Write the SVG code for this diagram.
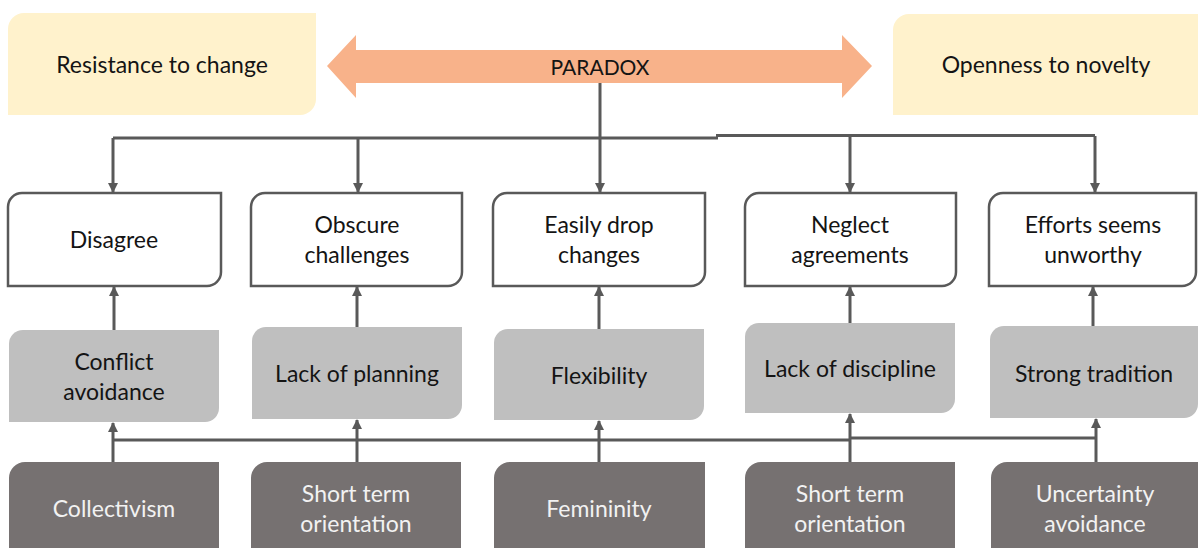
<svg xmlns="http://www.w3.org/2000/svg" width="1198" height="548" viewBox="0 0 1198 548">
  <style>
    text { font-family: Lato, "Open Sans", "Liberation Sans", sans-serif; font-size: 23px; text-anchor: middle; fill: #141414; }
    .pole { fill: #fff2cc; }
    .effect { fill: #ffffff; stroke: #595959; stroke-width: 2.5; }
    .cause { fill: #bfbfbf; }
    .root { fill: #767171; }
    .root-text { fill: #f2f2f2; }
    .wire { fill: none; stroke: #595959; stroke-width: 3; }
    .arrow { fill: none; stroke: #595959; stroke-width: 3; marker-end: url(#head); }
  </style>
  <defs>
    <marker id="head" markerUnits="userSpaceOnUse" markerWidth="11" markerHeight="11" refX="9" refY="5" orient="auto">
      <path d="M0,0 L10,5 L0,10 Z" fill="#595959"/>
    </marker>
  </defs>

  <rect width="1198" height="548" fill="#ffffff"/>

  <!-- the two poles -->
  <g id="resistance">
    <path class="pole" d="M24,13 H316 V99 A16,16 0 0 1 300,115 H8 V29 A16,16 0 0 1 24,13 Z"/>
    <text x="162" y="73">Resistance to change</text>
  </g>
  <g id="openness">
    <path class="pole" d="M909,14 H1198 V115 H893 V30 A16,16 0 0 1 909,14 Z"/>
    <text x="1046" y="73">Openness to novelty</text>
  </g>

  <!-- double-headed tension arrow -->
  <g id="paradox">
    <path d="M327,66 L356,35 V50 H842 V35 L872,66 L842,98 V83 H356 V98 Z" fill="#f8b28a"/>
    <text x="600" y="75" style="font-size:21px">PARADOX</text>
  </g>

  <!-- outcomes -->
  <g id="disagree">
    <path class="effect" d="M22,193 H221 V272 A14,14 0 0 1 207,286 H8 V207 A14,14 0 0 1 22,193 Z"/>
    <text x="114" y="248">Disagree</text>
  </g>
  <g id="obscure">
    <path class="effect" d="M265,193 H462 V272 A14,14 0 0 1 448,286 H251 V207 A14,14 0 0 1 265,193 Z"/>
    <text x="357" y="233">Obscure</text>
    <text x="357" y="263">challenges</text>
  </g>
  <g id="drop">
    <path class="effect" d="M507,193 H705 V272 A14,14 0 0 1 691,286 H493 V207 A14,14 0 0 1 507,193 Z"/>
    <text x="599" y="233">Easily drop</text>
    <text x="599" y="263">changes</text>
  </g>
  <g id="neglect">
    <path class="effect" d="M759,193 H956 V272 A14,14 0 0 1 942,286 H745 V207 A14,14 0 0 1 759,193 Z"/>
    <text x="850" y="233">Neglect</text>
    <text x="850" y="263">agreements</text>
  </g>
  <g id="efforts">
    <path class="effect" d="M1003,193 H1196 V272 A14,14 0 0 1 1182,286 H989 V207 A14,14 0 0 1 1003,193 Z"/>
    <text x="1093" y="233">Efforts seems</text>
    <text x="1093" y="263">unworthy</text>
  </g>

  <!-- behaviours -->
  <g id="conflict">
    <path class="cause" d="M23,330 H219 V408 A14,14 0 0 1 205,422 H9 V344 A14,14 0 0 1 23,330 Z"/>
    <text x="114" y="370">Conflict</text>
    <text x="114" y="400">avoidance</text>
  </g>
  <g id="planning">
    <path class="cause" d="M266,327 H462 V405 A14,14 0 0 1 448,419 H252 V341 A14,14 0 0 1 266,327 Z"/>
    <text x="357" y="382">Lack of planning</text>
  </g>
  <g id="flexibility">
    <path class="cause" d="M508,329 H704 V406 A14,14 0 0 1 690,420 H494 V343 A14,14 0 0 1 508,329 Z"/>
    <text x="599" y="384">Flexibility</text>
  </g>
  <g id="discipline">
    <path class="cause" d="M759,323 H955 V399 A14,14 0 0 1 941,413 H745 V337 A14,14 0 0 1 759,323 Z"/>
    <text x="850" y="377">Lack of discipline</text>
  </g>
  <g id="tradition">
    <path class="cause" d="M1004,326 H1198 V404 A14,14 0 0 1 1184,418 H990 V340 A14,14 0 0 1 1004,326 Z"/>
    <text x="1094" y="382">Strong tradition</text>
  </g>

  <!-- cultural dimensions -->
  <g id="collectivism">
    <path class="root" d="M25,462 H219 V548 H9 V478 A16,16 0 0 1 25,462 Z"/>
    <text class="root-text" x="114" y="517">Collectivism</text>
  </g>
  <g id="short-term-1">
    <path class="root" d="M267,462 H461 V548 H251 V478 A16,16 0 0 1 267,462 Z"/>
    <text class="root-text" x="356" y="502">Short term</text>
    <text class="root-text" x="356" y="532">orientation</text>
  </g>
  <g id="femininity">
    <path class="root" d="M510,462 H705 V548 H494 V478 A16,16 0 0 1 510,462 Z"/>
    <text class="root-text" x="599" y="517">Femininity</text>
  </g>
  <g id="short-term-2">
    <path class="root" d="M761,462 H955 V548 H745 V478 A16,16 0 0 1 761,462 Z"/>
    <text class="root-text" x="850" y="502">Short term</text>
    <text class="root-text" x="850" y="532">orientation</text>
  </g>
  <g id="uncertainty">
    <path class="root" d="M1007,462 H1198 V548 H991 V478 A16,16 0 0 1 1007,462 Z"/>
    <text class="root-text" x="1095" y="502">Uncertainty</text>
    <text class="root-text" x="1095" y="532">avoidance</text>
  </g>

  <!-- connectors -->
  <g id="connectors">
    <!-- paradox fans out to the outcomes -->
    <path class="wire" d="M600,83 V138"/>
    <path class="wire" d="M113,138 H718"/>
    <path class="wire" d="M716,135.5 H1095"/>
    <path class="arrow" d="M113,138 V192"/>
    <path class="arrow" d="M358,138 V192"/>
    <path class="arrow" d="M600,138 V192"/>
    <path class="arrow" d="M850,136 V192"/>
    <path class="arrow" d="M1095,136 V192"/>

    <!-- behaviours lead to outcomes -->
    <path class="arrow" d="M114,330 V287"/>
    <path class="arrow" d="M357,327 V287"/>
    <path class="arrow" d="M599,329 V287"/>
    <path class="arrow" d="M850,323 V287"/>
    <path class="arrow" d="M1093,326 V287"/>

    <!-- dimensions feed the behaviours -->
    <path class="wire" d="M113,440 H851"/>
    <path class="wire" d="M849,438 H1096"/>
    <path class="arrow" d="M113,462 V423"/>
    <path class="arrow" d="M357,462 V420"/>
    <path class="arrow" d="M599,462 V421"/>
    <path class="arrow" d="M850,462 V414"/>
    <path class="arrow" d="M1096,462 V419"/>
  </g>
</svg>
